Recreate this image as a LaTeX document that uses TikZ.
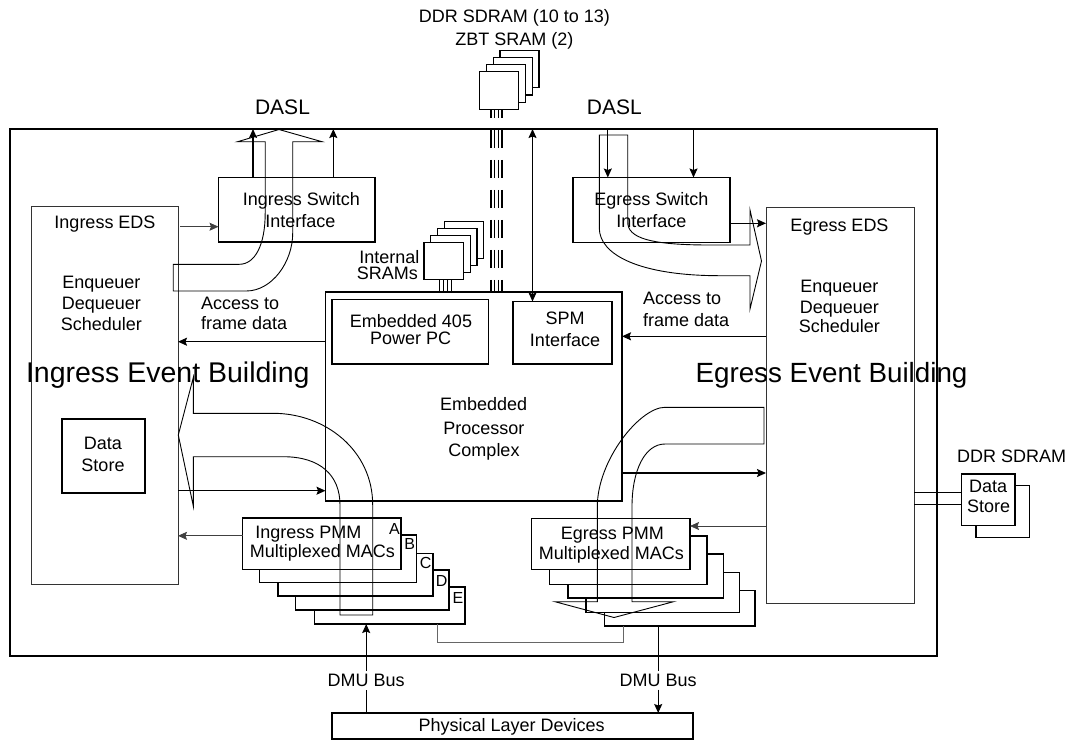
\documentclass[tikz,border=0pt]{standalone}
\usepackage{fontspec}
\setmainfont{Liberation Sans}
\usetikzlibrary{arrows.meta}
\newcommand\fs{\fontsize{18pt}{20pt}\selectfont}
\newcommand\fdasl{\fontsize{21pt}{24pt}\selectfont}
\newcommand\fbigi{\fontsize{28.5pt}{30pt}\selectfont}
\newcommand\fbige{\fontsize{27.8pt}{30pt}\selectfont}
\newcommand\flet{\fontsize{16pt}{18pt}\selectfont}
\begin{document}
\begin{tikzpicture}[x=1pt,y=-1pt,
  bx/.style={draw, line width=1.2pt, inner sep=0pt, outer sep=0pt, rectangle},
  gbx/.style={bx, line width=1pt, draw=black!80},
  wbx/.style={bx, fill=white},
  tx/.style={inner sep=0pt, anchor=base, font=\fs},
  tl/.style={tx, anchor=base west},
  ln/.style={line width=1.2pt},
  atip/.style={-{Stealth[length=9pt,width=8pt,inset=1.5pt]}},
  arr/.style={ln, atip},
  darr/.style={ln, {Stealth[length=9pt,width=8pt,inset=1.5pt]}-{Stealth[length=9pt,width=8pt,inset=1.5pt]}},
  garr/.style={line width=0.8pt, draw=black!75, atip},
  gln/.style={line width=0.8pt, draw=black!60},
  bigarrow/.style={line width=0.9pt, line join=miter},
  bus/.style={line width=1.2pt, dash pattern=on 18pt off 12pt, dash phase=9.5pt},
]
\useasboundingbox (0,0) rectangle (1070,740);

% ---------- boxes ----------
\node[bx, minimum width=927pt, minimum height=527pt] (outer) at (473.5,392.5) {};

\foreach \k in {3,2,1,0}
  \node[wbx, minimum width=39pt, minimum height=37.6pt] (mem\k) at ({498.8+6.9*\k},{90.5-7.2*\k}) {};
\foreach \k in {3,2,1,0}
  \node[wbx, minimum width=39.3pt, minimum height=37pt] (isr\k) at ({443.65+6.8*\k},{261-6.9*\k}) {};

\node[gbx, minimum width=146.5pt, minimum height=377.5pt] (ieds) at (104.75,395.25) {};
\node[bx, minimum width=83pt, minimum height=74pt] (ids) at (103.5,456) {};
\node[bx, minimum width=156.5pt, minimum height=64.5pt] (isi) at (296.75,209.75) {};
\node[bx, minimum width=296.5pt, minimum height=209pt] (epc) at (473.75,396.5) {};
\node[bx, minimum width=156.5pt, minimum height=64.5pt] (ppc) at (410.25,331.75) {};
\node[bx, minimum width=99pt, minimum height=62.5pt] (spm) at (562.5,332.75) {};
\node[bx, minimum width=157pt, minimum height=65pt] (esi) at (651.5,210) {};
\node[gbx, minimum width=148pt, minimum height=396.5pt] (eeds) at (840,405.25) {};
\node[bx, minimum width=361pt, minimum height=26pt] (phy) at (512.5,726) {};
\node[wbx, minimum width=53.5pt, minimum height=52pt] (rdsb) at (1002.75,511.5) {};
\node[wbx, minimum width=53.5pt, minimum height=51.5pt] (rds) at (988.25,499.75) {};

% ingress PMM stack
\node[wbx, minimum width=150.5pt, minimum height=37pt] (ipE) at (389.75,605.5) {};
\node[wbx, minimum width=153.5pt, minimum height=40pt] (ipD) at (372.25,590) {};
\node[wbx, minimum width=155pt, minimum height=42.5pt] (ipC) at (355.5,574.75) {};
\node[wbx, minimum width=157pt, minimum height=47.5pt] (ipB) at (338,558.75) {};
\node[wbx, minimum width=158.5pt, minimum height=51.5pt] (ipA) at (321.75,543.75) {};
% egress PMM stack
\node[wbx, minimum width=150.5pt, minimum height=35.5pt] (ep5) at (679.75,608.25) {};
\node[wbx, minimum width=153.5pt, minimum height=40pt] (ep4) at (662.75,592.5) {};
\node[wbx, minimum width=155.5pt, minimum height=44pt] (ep3) at (645.75,576) {};
\node[wbx, minimum width=157.5pt, minimum height=48.5pt] (ep2) at (628.25,560.25) {};
\node[wbx, minimum width=158.5pt, minimum height=51pt] (ep1) at (610.75,544) {};

% ---------- texts ----------
\node[tx] (tddr) at (514.3,22.9) {DDR SDRAM (10 to 13)};
\node[tx] (tzbt) at (514.3,45.2) {ZBT SRAM (2)};
\node[tx, font=\fdasl] (dasl1) at (282.5,114.3) {DASL};
\node[tx, font=\fdasl] (dasl2) at (614.4,114.3) {DASL};

\node[tx] (t1) at (105,228.6) {Ingress EDS};
\node[tx] (t2) at (101.3,288.9) {Enqueuer};
\node[tx] (t3) at (101.3,309.6) {Dequeuer};
\node[tx] (t4) at (101.3,330.2) {Scheduler};
\node[tl] (t5) at (201,309.6) {Access to};
\node[tl] (t6) at (201,329.6) {frame data};
\node[tl, font=\fbigi] (t7) at (25.8,382.1) {Ingress Event Building};
\node[tx] (t8) at (103,449.6) {Data};
\node[tx] (t9) at (103,471.2) {Store};
\node[tx] (t10) at (301.3,205.6) {Ingress Switch};
\node[tx] (t11) at (300.4,227.9) {Interface};
\node[tx, anchor=base east] (t12) at (419.5,263.6) {Internal};
\node[tx, anchor=base east] (t13) at (418,279.6) {SRAMs};
\node[tx] (t14) at (411,327.2) {Embedded 405};
\node[tx] (t15) at (410.7,344.6) {Power PC};
\node[tx] (t16) at (565,324.6) {SPM};
\node[tx] (t17) at (565,346.2) {Interface};
\node[tx] (t18) at (483.7,410.6) {Embedded};
\node[tx] (t19) at (483.8,434.6) {Processor};
\node[tx] (t20) at (484,456.2) {Complex};
\node[tx] (t21) at (651.4,205.6) {Egress Switch};
\node[tx] (t22) at (651.4,227.9) {Interface};
\node[tx] (t23) at (839.5,231.2) {Egress EDS};
\node[tx] (t24) at (839.3,292.2) {Enqueuer};
\node[tx] (t25) at (839.3,313.6) {Dequeuer};
\node[tx] (t26) at (839.3,332.9) {Scheduler};
\node[tl] (t27) at (643,304.6) {Access to};
\node[tl] (t28) at (643,326.2) {frame data};
\node[tx, font=\fbige] (t29) at (831.5,382.1) {Egress Event Building};
\node[tx] (t30) at (308.3,538.9) {Ingress PMM};
\node[tx] (t31) at (322.5,557.9) {Multiplexed MACs};
\node[tx] (t32) at (612.3,539.6) {Egress PMM};
\node[tx] (t33) at (611.4,559.6) {Multiplexed MACs};
\node[tx, font=\flet, anchor=base east] (lA) at (400,534.2) {A};
\node[tx, font=\flet, anchor=base east] (lB) at (415.2,549.5) {B};
\node[tx, font=\flet, anchor=base east] (lC) at (431.7,568.2) {C};
\node[tx, font=\flet, anchor=base east] (lD) at (447.5,586.5) {D};
\node[tx, font=\flet, anchor=base east] (lE) at (463.5,603.2) {E};
\node[tx] (t34) at (511.7,731.2) {Physical Layer Devices};
\node[tx] (t35) at (1011.7,462.9) {DDR SDRAM};
\node[tx] (t36) at (988,492.2) {Data};
\node[tx] (t37) at (988.5,512.9) {Store};
\node[tx, inner sep=3pt] (dmuL) at (366.2,686.2) {DMU Bus};
\node[tx, inner sep=3pt] (dmuR) at (658.2,686.2) {DMU Bus};

% ---------- wires and buses ----------
\foreach \x in {439,443,447,451}
  \draw[line width=1pt] (isr0.south -| \x,0) -- (epc.north -| \x,0);
\foreach \x in {491,494.7,498.3,502}
  \draw[bus] (mem0.south -| \x,0) -- (epc.north -| \x,0);

% ---------- connectors ----------
\draw[arr] (isi.north -| 253,0) -- (outer.north -| 253,0);
\draw[arr] (isi.north -| 333.3,0) -- (outer.north -| 333.3,0);
\draw[arr] (outer.north -| 607.8,0) -- (esi.north -| 607.8,0);
\draw[arr] (outer.north -| 693.5,0) -- (esi.north -| 693.5,0);
\draw[darr] (outer.north -| 532.5,0) -- (spm.north -| 532.5,0);

\draw[garr, shorten <=2pt] (ieds.east |- 0,226.7) -- (isi.west |- 0,226.7);
\draw[arr] (epc.west |- 0,341.7) -- (ieds.east |- 0,341.7);
\draw[arr] (ieds.east |- 0,490.7) -- (epc.west |- 0,490.7);
\draw[garr] (ipA.west |- 0,535.8) -- (ieds.east |- 0,535.8);

\draw[arr] (esi.east |- 0,223.3) -- (eeds.west |- 0,223.3);
\draw[arr] (eeds.west |- 0,336.3) -- (epc.east |- 0,336.3);
\draw[arr] (epc.east |- 0,473) -- (eeds.west |- 0,473);
\draw[garr] (eeds.west |- 0,526) -- (ep1.east |- 0,526);

\draw[line width=1pt] (eeds.east |- 0,492.3) -- (rds.west |- 0,492.3);
\draw[line width=1pt] (eeds.east |- 0,504) -- (rds.west |- 0,504);

\draw[gln] (ipE.south -| 437.8,0) |- (623.8,642.3) -- (ep5.south -| 623.8,0);

\draw[ln] (phy.north -| dmuL.south) -- (dmuL.south);
\draw[arr] (dmuL.north) -- (ipE.south -| dmuL.north);
\draw[ln] (ep5.south -| dmuR.north) -- (dmuR.north);
\draw[arr] (dmuR.south) -- (phy.north -| dmuR.south);

% ---------- big hollow arrows ----------
% ingress: EDS up to DASL
\draw[bigarrow] (173.2,264.3) -- (239.3,264.3)
  .. controls (255,264.3) and (265.2,245) .. (265.2,213)
  -- (265.2,141.7) -- (237.6,141.7) -- (279,129.5) -- (322,141.7) -- (292.7,141.7)
  -- (292.7,233.3) .. controls (292.7,262) and (272,291) .. (246.2,291)
  -- (173.2,291) -- cycle;
% ingress: PMM up into EDS
\draw[bigarrow] (340,615) -- (340,505)
  .. controls (340,475) and (320,456.7) .. (283.3,456.7)
  -- (193.3,456.7) -- (193.3,506) -- (178.3,435) -- (193.3,377.5) -- (193.3,413.3)
  -- (273.3,413.3) .. controls (325,413.3) and (372.7,450) .. (372.7,505)
  -- (372.7,615) -- cycle;
% egress: DASL down into EDS
\draw[bigarrow] (599.3,135) -- (627.7,135) -- (627.7,222)
  .. controls (627.7,238) and (650,245) .. (710,245)
  -- (750,245) -- (750,210) -- (761.5,261) -- (750,309) -- (750,275.7)
  -- (720,275.7) .. controls (640,275.7) and (599.3,255) .. (599.3,228) -- cycle;
% egress: EDS down to PMM
\draw[bigarrow] (764,407.3) -- (665,407.3)
  .. controls (640,407.3) and (597.3,460) .. (597.3,506.7)
  -- (597.3,601.7) -- (555,601.7) -- (614,617.5) -- (673.5,601.7) -- (632,601.7)
  -- (632,506.7) .. controls (632,470) and (645,444) .. (665,444)
  -- (764,444) -- cycle;
\end{tikzpicture}
\end{document}
